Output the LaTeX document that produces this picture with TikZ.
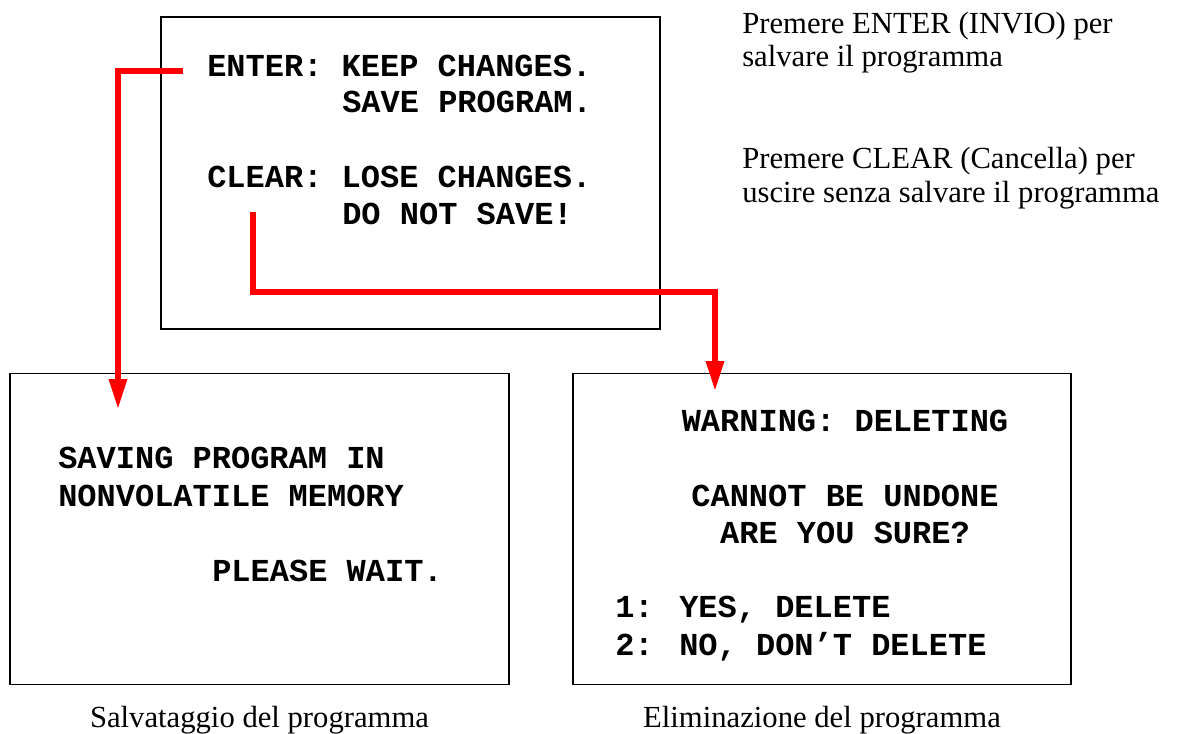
\documentclass[tikz,border=0pt]{standalone}
\usepackage{fontspec}
\setmainfont{Liberation Serif}
\newfontfamily\lcdfont{Liberation Mono}
\usetikzlibrary{arrows.meta}

\begin{document}
\begin{tikzpicture}[x=0.75pt, y=-0.75pt,
	screen/.style={draw, line width=1.2pt, inner sep=0, outer sep=0},
	lcd/.style={font=\lcdfont\bfseries\fontsize{24}{28}\selectfont, inner sep=0, anchor=base west},
	note/.style={font=\fontsize{23}{27}\selectfont, inner sep=0, anchor=base west},
	flow/.style={red, line width=4pt, -{Triangle[length=22.5pt, width=13pt]}}]
	\useasboundingbox (0,0) rectangle (1177,734);
	%screens
	\node[screen, minimum width=374.25pt, minimum height=234pt] (edit) at (410.5,173) {};
	\node[screen, minimum width=374.25pt, minimum height=233.25pt] (save) at (259.5,529) {};
	\node[screen, minimum width=373.5pt, minimum height=233.25pt] (delete) at (822,529) {};
	%edit screen
	\node[lcd] (enter) at (207,77) {ENTER: KEEP CHANGES.};
	\node[lcd] (keep) at (342,113) {SAVE PROGRAM.};
	\node[lcd] (clear) at (207,188) {CLEAR: LOSE CHANGES.};
	\node[lcd] (lose) at (342,225) {DO NOT SAVE!};
	%save screen
	\node[lcd] (saving) at (58,468) {SAVING PROGRAM IN};
	\node[lcd] (memory) at (58,506) {NONVOLATILE MEMORY};
	\node[lcd] (wait) at (212,581) {PLEASE WAIT.};
	%delete screen
	\node[lcd, anchor=base] (warn) at (845,431) {WARNING: DELETING};
	\node[lcd, anchor=base] (undone) at (845,506) {CANNOT BE UNDONE};
	\node[lcd, anchor=base] (sure) at (845,543) {ARE YOU SURE?};
	\node[lcd] (yes) at (615,617) {1: YES, DELETE};
	\node[lcd] (no) at (615,655) {2: NO, DON’T DELETE};
	%notes
	\node[note] (enternote) at (742,34) {Premere ENTER (INVIO) per};
	\node[note] (enternote2) at (742,67) {salvare il programma};
	\node[note] (clearnote) at (742,169) {Premere CLEAR (Cancella) per};
	\node[note] (clearnote2) at (742,203) {uscire senza salvare il programma};
	\node[note, anchor=base] (savecap) at (259.5,727) {Salvataggio del programma};
	\node[note, anchor=base] (deletecap) at (822,727) {Eliminazione del programma};
	%arrows
	\coordinate (enterpt) at (183,71);
	\coordinate (clearpt) at (253,212);
	\coordinate (savetip) at (118,409);
	\coordinate (deletetip) at (715,391);
	\draw[flow] (enterpt) -| (savetip);
	\draw[flow] (clearpt) -- ++(0,80) -| (deletetip);
\end{tikzpicture}
\end{document}
